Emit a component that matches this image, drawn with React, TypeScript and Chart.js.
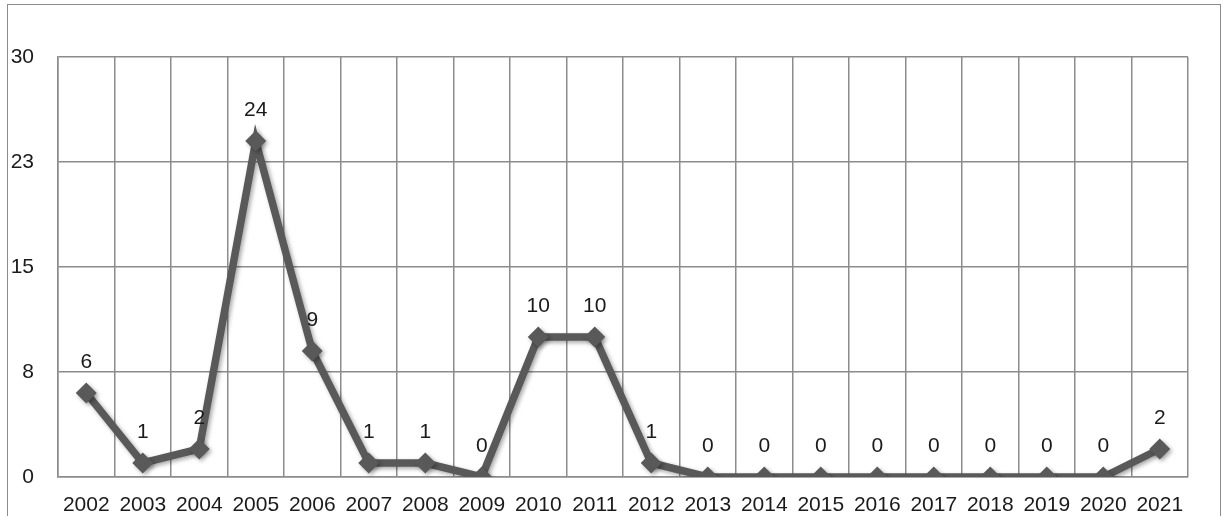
import React, { useEffect, useRef } from "react";
import { Chart, registerables } from "chart.js";

Chart.register(...registerables);

const years = ["2002","2003","2004","2005","2006","2007","2008","2009","2010","2011","2012","2013","2014","2015","2016","2017","2018","2019","2020","2021"];
const counts = [6, 1, 2, 24, 9, 1, 1, 0, 10, 10, 1, 0, 0, 0, 0, 0, 0, 0, 0, 2];
const yTicks = [0, 7.5, 15, 22.5, 30];

const FONT = "'Liberation Sans', Arial, sans-serif";

const labelPlugin = {
  id: "pointLabels",
  beforeDatasetsDraw(chart: any) {
    const ctx = chart.ctx;
    ctx.save();
    ctx.shadowColor = "rgba(0,0,0,0.35)";
    ctx.shadowBlur = 4;
    ctx.shadowOffsetX = 2;
    ctx.shadowOffsetY = 2;
  },
  afterDatasetsDraw(chart: any) {
    const ctx = chart.ctx;
    ctx.restore();
    const meta = chart.getDatasetMeta(0);
    ctx.save();
    ctx.font = `21px ${FONT}`;
    ctx.fillStyle = "#1a1a1a";
    ctx.textAlign = "center";
    ctx.textBaseline = "middle";
    meta.data.forEach((pt: any, i: number) => {
      ctx.fillText(String(counts[i]), pt.x, pt.y - 31);
    });
    ctx.restore();
  },
};

export default function App() {
  const ref = useRef<HTMLCanvasElement>(null);
  useEffect(() => {
    if (!ref.current) return;
    const chart = new Chart(ref.current, {
      type: "line",
      data: {
        labels: years,
        datasets: [
          {
            data: counts,
            borderColor: "#595959",
            backgroundColor: "#595959",
            borderWidth: 7.5,
            pointStyle: "rectRot",
            pointRadius: 10.5,
            pointHoverRadius: 10.5,
            pointBorderWidth: 0,
            tension: 0,
          },
        ],
      },
      options: {
        animation: false,
        responsive: true,
        maintainAspectRatio: false,
        layout: { padding: { left: 0, right: 35, top: 57, bottom: 0 } },
        plugins: { legend: { display: false }, tooltip: { enabled: false } },
        scales: {
          x: {
            offset: true,
            grid: { offset: true, color: "#8c8c8c", lineWidth: 1.5, drawTicks: false },
            border: { color: "#8c8c8c", width: 1.5 },
            ticks: { color: "#1a1a1a", font: { family: FONT, size: 21 }, padding: 16, maxRotation: 0, autoSkip: false },
            afterFit(scale: any) { scale.height = 39; },
          },
          y: {
            min: 0,
            max: 30,
            afterBuildTicks(scale: any) { scale.ticks = yTicks.map((v) => ({ value: v })); },
            grid: { color: "#8c8c8c", lineWidth: 1.5, drawTicks: false },
            border: { color: "#8c8c8c", width: 1.5 },
            ticks: {
              color: "#1a1a1a",
              font: { family: FONT, size: 21 },
              padding: 24,
              callback: (v: any) => String(Math.round(Number(v))),
            },
            afterFit(scale: any) { scale.width = 58; },
          },
        },
      },
      plugins: [labelPlugin],
    });
    return () => chart.destroy();
  }, []);
  return (
    <div style={{ position: "fixed", left: 0, top: 0, width: 1223, height: 516, background: "#fff", overflow: "hidden" }}>
      <div style={{ position: "absolute", left: 7, top: 4, width: 1212, height: 520, border: "1.5px solid #8c8c8c" }} />
      <div style={{ position: "absolute", left: 0, top: 0, width: 1223, height: 516 }}>
        <canvas ref={ref} />
      </div>
    </div>
  );
}
